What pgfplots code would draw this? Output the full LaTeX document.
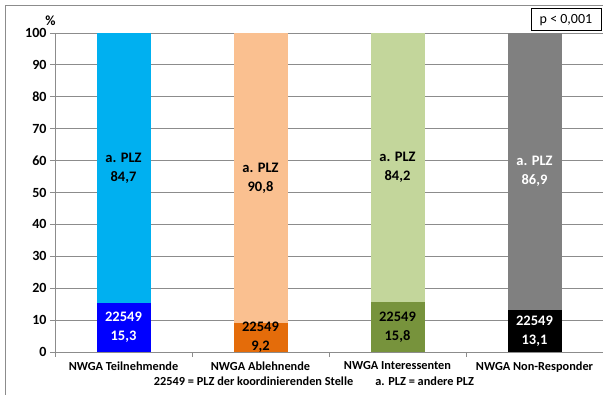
\documentclass[border=0pt]{standalone}
\usepackage{pgfplots}
\pgfplotsset{compat=1.18}
\usepackage{fontspec}
\setmainfont{Carlito}

\definecolor{tnlow}{HTML}{0000FF}
\definecolor{tnhigh}{HTML}{00B0F0}
\definecolor{ablow}{HTML}{E46C0A}
\definecolor{abhigh}{HTML}{FAC090}
\definecolor{inlow}{HTML}{77933C}
\definecolor{inhigh}{HTML}{C3D69B}
\definecolor{nrlow}{HTML}{000000}
\definecolor{nrhigh}{HTML}{808080}
\definecolor{gridgray}{HTML}{8C8C8C}

\newcommand\labelfont{\bfseries\fontsize{14.5}{19}\selectfont}

\pgfplotsset{
  frame/.style={
    scale only axis, width=548pt, height=319pt,
    at={(55pt,43pt)}, anchor=south west,
    xmin=-0.5, xmax=3.5, ymin=0, ymax=100,
  },
  % one stacked column per category, all sharing the same frame
  column/.style={
    frame, hide axis, ybar stacked, bar width=54pt,
    /pgf/number format/.cd, fixed, fixed zerofill, precision=1,
      use comma, assume math mode=true,
  },
  % segment: fill colour and first label line; stacked labels sit mid-segment
  seg/.style 2 args={
    fill=#1, draw=none,
    nodes near coords={#2\\\pgfmathprintnumber{\pgfplotspointmeta}},
    every node near coord/.append style={
      font=\labelfont, align=center, anchor=center, inner sep=0pt},
  },
}

\begin{document}
\begin{tikzpicture}
\useasboundingbox (0,0) rectangle (603pt,395pt);
% outer chart frame
\draw[gridgray, line width=0.8pt] (5pt,-5pt) -- (5pt,389.5pt) -- (610pt,389.5pt);

\begin{axis}[
  frame,
  axis x line*=bottom, axis y line*=left,
  axis line style={gridgray, line width=0.8pt},
  ymajorgrids, grid style={gridgray, line width=0.8pt},
  ytick={0,10,...,100},
  xtick={0,1,2,3},
  xticklabels={NWGA Teilnehmende, NWGA Ablehnende, NWGA Interessenten, NWGA Non-Responder},
  minor xtick={-0.5,0.5,1.5,2.5,3.5},
  tick align=outside,
  major tick length=5pt, minor tick length=5pt,
  tick style={gridgray, line width=0.8pt},
  x tick style={draw=none},
  minor x tick style={draw=gridgray},
  yticklabel style={font=\bfseries\fontsize{14}{16}\selectfont, text=black},
  xticklabel style={font=\bfseries\fontsize{12.3}{14}\selectfont, text=black, yshift=-1pt},
  /pgf/number format/assume math mode=true,
]
\end{axis}

\begin{axis}[column]
\addplot[seg={tnlow}{22549}, every node near coord/.append style={text=white}] coordinates {(0,15.3)};
\addplot[seg={tnhigh}{a. PLZ}, every node near coord/.append style={text=black}] coordinates {(0,84.7)};
\end{axis}
\begin{axis}[column]
\addplot[seg={ablow}{22549}, every node near coord/.append style={text=black}] coordinates {(1,9.2)};
\addplot[seg={abhigh}{a. PLZ}, every node near coord/.append style={text=black}] coordinates {(1,90.8)};
\end{axis}
\begin{axis}[column]
\addplot[seg={inlow}{22549}, every node near coord/.append style={text=black}] coordinates {(2,15.8)};
\addplot[seg={inhigh}{a. PLZ}, every node near coord/.append style={text=black}] coordinates {(2,84.2)};
\end{axis}
\begin{axis}[column]
\addplot[seg={nrlow}{22549}, every node near coord/.append style={text=white}] coordinates {(3,13.1)};
\addplot[seg={nrhigh}{a. PLZ}, every node near coord/.append style={text=white}] coordinates {(3,86.9)};
\end{axis}

\node[font=\bfseries\fontsize{14}{16}\selectfont] at (50.5pt,374pt) {\%};
\node[draw=black, line width=1pt, minimum width=70pt, minimum height=22pt,
      inner sep=0pt, font=\fontsize{14}{16}\selectfont] at (566pt,375pt) {p < 0,001};
\node[font=\bfseries\fontsize{12.3}{14}\selectfont] at (314pt,14pt)
  {22549 = PLZ der koordinierenden Stelle\hspace{1.8em}a. PLZ = andere PLZ};
\end{tikzpicture}
\end{document}
